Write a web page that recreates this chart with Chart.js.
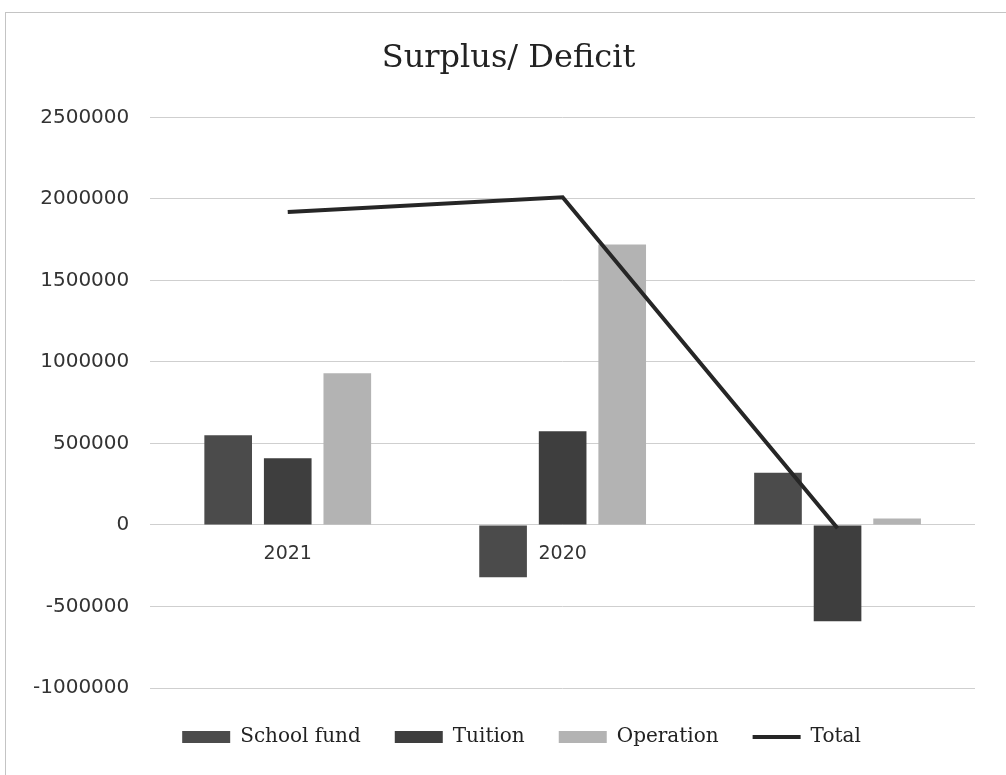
<!DOCTYPE html>
<html>
<head>
<meta charset="utf-8">
<title>Surplus/ Deficit</title>
<script src="https://cdn.jsdelivr.net/npm/chart.js@4/dist/chart.umd.min.js"></script>
<style>
  html, body { margin: 0; padding: 0; background: #fff; }
</style>
</head>
<body>
<canvas id="chart" width="1006" height="775"></canvas>
<script>
// values
const categories = ['2021', '2020', ''];
const schoolFund = [550000, -320000, 320000];
const tuition = [410000, 575000, -590000];
const operation = [930000, 1720000, 40000];
const total = [1920000, 2010000, -20000];
const yTicks = [-1000000, -500000, 0, 500000, 1000000, 1500000, 2000000, 2500000];

const frame = {
  id: 'frame',
  beforeDraw(chart) {
    const ctx = chart.ctx;
    ctx.save();
    ctx.fillStyle = '#fff';
    ctx.fillRect(0, 0, chart.width, chart.height);
    ctx.strokeStyle = '#c4c4c4';
    ctx.lineWidth = 1;
    ctx.strokeRect(5.5, 12.5, 1010, 800);
    ctx.restore();
  }
};

// title and legend sit a bit right of centre in the original
const nudge = {
  id: 'nudge',
  afterLayout(chart) {
    chart.legend.left += 28;
    chart.legend.right += 28;
    chart.titleBlock.left += 15;
    chart.titleBlock.right += 15;
  }
};

const ctx = document.getElementById('chart').getContext('2d');
new Chart(ctx, {
  type: 'bar',
  data: {
    labels: categories,
    datasets: [
      {
        label: 'School fund',
        data: schoolFund,
        backgroundColor: '#4b4b4b',
        order: 1,
      },
      {
        label: 'Tuition',
        data: tuition,
        backgroundColor: '#3e3e3e',
        order: 1,
      },
      {
        label: 'Operation',
        data: operation,
        backgroundColor: '#b3b3b3',
        order: 1,
      },
      {
        type: 'line',
        label: 'Total',
        data: total,
        borderColor: '#262626',
        backgroundColor: '#262626',
        borderWidth: 4,
        pointRadius: 0,
        tension: 0,
        order: 0,
      },
    ],
  },
  options: {
    responsive: false,
    animation: false,
    layout: {
      padding: { left: 12, right: 31, top: 20, bottom: 18 },
    },
    datasets: {
      bar: { categoryPercentage: 0.65, barPercentage: 0.8 },
    },
    scales: {
      x: {
        position: { y: 0 },
        grid: { display: false },
        border: { display: false },
        ticks: {
          color: '#333',
          padding: 10,
          font: { family: 'DejaVu Sans', size: 19 },
        },
      },
      // empty strip between plot and legend
      pad: {
        axis: 'x',
        type: 'linear',
        position: 'bottom',
        grid: { display: false },
        border: { display: false },
        ticks: { display: false },
        afterFit: (scale) => { scale.height = 5; },
      },
      y: {
        min: yTicks[0],
        max: yTicks[yTicks.length - 1],
        afterBuildTicks: (scale) => {
          scale.ticks = yTicks.map(v => ({ value: v }));
        },
        grid: {
          color: '#cfcfcf',
          lineWidth: 1,
          drawTicks: false,
        },
        border: { display: false },
        ticks: {
          color: '#333',
          padding: 21,
          font: { family: 'DejaVu Sans', size: 20 },
          callback: (v) => String(v),
        },
      },
    },
    plugins: {
      title: {
        display: true,
        text: 'Surplus/ Deficit',
        color: '#222',
        font: { family: 'DejaVu Serif', size: 32, weight: 'normal' },
        padding: { top: 19, bottom: 40 },
      },
      legend: {
        position: 'bottom',
        labels: {
          color: '#222',
          font: { family: 'DejaVu Serif', size: 20 },
          usePointStyle: true,
          pointStyleWidth: 48,
          boxHeight: 12,
          padding: 34,
          sort: (a, b) => a.datasetIndex - b.datasetIndex,
          generateLabels(chart) {
            const items = Chart.defaults.plugins.legend.labels.generateLabels(chart);
            items.forEach(item => {
              const ds = chart.data.datasets[item.datasetIndex];
              if (ds.type === 'line') {
                item.pointStyle = 'line';
                item.lineWidth = 4;
                item.strokeStyle = ds.borderColor;
              } else {
                item.pointStyle = 'rect';
                item.lineWidth = 0;
              }
            });
            return items;
          },
        },
      },
      tooltip: { enabled: false },
    },
  },
  plugins: [frame, nudge],
});
</script>
</body>
</html>
